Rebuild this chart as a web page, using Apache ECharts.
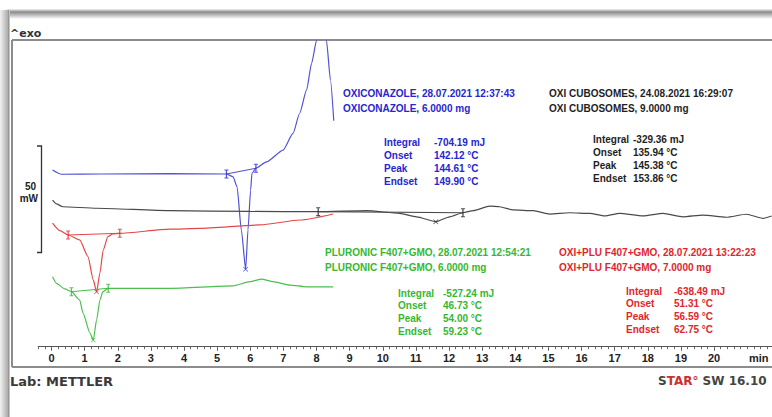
<!DOCTYPE html>
<html><head><meta charset="utf-8">
<script src="https://cdn.jsdelivr.net/npm/echarts@6/dist/echarts.min.js"></script>
<style>html,body{margin:0;padding:0;background:#fff}#c{width:772px;height:417px}</style>
</head><body><div id="c"></div><script>
// ---- data (x: time in min, y: heat flow in mW, arbitrary offset) ----
const tickValues = [0,1,2,3,4,5,6,7,8,9,10,11,12,13,14,15,16,17,18,19,20];
const tickLabels = ['0','1','2','3','4','5','6','7','8','9','10','11','12','13','14','15','16','17','18','19','20'];
const unitLabel = 'min';

const oxiCurve = [[0.03,82.6],[0.30,80.6],[1.5,80.7],[3.57,80.9],[5.28,80.7],[5.48,79.4],[5.60,74.8],[5.73,54.5],[5.86,36.2],[5.93,54.5],[6.01,73.2],[6.05,81.0],[6.17,83.4],[6.49,86.4],[6.99,91.9],[7.29,99.7],[7.49,109.1],[7.70,120.0],[7.85,132.4],[8.00,143.0],[8.15,162],[8.30,143.0],[8.42,124.6],[8.52,105.6]];
const oxiMarks = [[5.28,80.7],[6.17,83.4]];
const oxiPeak = [[5.86,36.2]];

const cuboCurve = [[0.03,68.5],[0.15,66.7],[0.34,65.4],[1.36,64.7],[3.57,63.6],[6.0,63.2],[8.05,63.1],[9.51,63.6],[10.51,62.3],[11.02,60.7],[11.60,58.4],[12.02,60.7],[12.42,62.6],[12.73,63.6],[13.23,65.7],[13.53,65.4],[13.93,63.9],[14.54,63.6],[15.04,62.0],[15.64,62.6],[16.25,62.3],[16.70,61.1],[17.15,62.3],[17.86,61.1],[18.46,62.3],[19.06,60.7],[19.67,61.5],[20.37,60.5],[20.98,61.9],[21.48,60.0],[21.74,61.1]];
const cuboMarks = [[8.05,63.1],[12.42,62.6]];
const cuboPeak = [[11.60,58.4]];

const mixCurve = [[0.03,57.7],[0.25,54.2],[0.50,52.2],[0.85,49.9],[1.10,42.1],[1.26,31.2],[1.36,25.7],[1.46,34.4],[1.56,45.2],[1.70,51.4],[1.85,52.7],[2.06,53.0],[3.57,54.9],[4.48,55.3],[6.29,56.9],[7.50,59.2],[8.50,62.0]];
const mixMarks = [[0.50,52.2],[2.06,53.0]];
const mixPeak = [[1.36,25.7]];

const pluCurve = [[0.03,32.7],[0.15,29.6],[0.40,27.0],[0.60,25.7],[0.85,21.8],[0.95,15.7],[1.16,6.4],[1.26,3.1],[1.36,12.5],[1.46,21.8],[1.55,25.7],[1.71,27.3],[3.57,27.3],[5.47,28.4],[5.99,30.4],[6.34,31.6],[6.69,30.4],[7.19,28.8],[7.70,28.0],[8.50,28.0]];
const pluMarks = [[0.60,25.7],[1.71,27.3]];
const pluPeak = [[1.26,3.1]];

const oxiTitle = ['OXICONAZOLE, 28.07.2021 12:37:43','OXICONAZOLE, 6.0000 mg'];
const oxiStats = [['Integral','-704.19 mJ'],['Onset','142.12 °C'],['Peak','144.61 °C'],['Endset','149.90 °C']];
const cuboTitle = ['OXI CUBOSOMES, 24.08.2021 16:29:07','OXI CUBOSOMES, 9.0000 mg'];
const cuboStats = [['Integral','-329.36 mJ'],['Onset','135.94 °C'],['Peak','145.38 °C'],['Endset','153.86 °C']];
const pluTitle = ['PLURONIC F407+GMO, 28.07.2021 12:54:21','PLURONIC F407+GMO, 6.0000 mg'];
const pluStats = [['Integral','-527.24 mJ'],['Onset','46.73 °C'],['Peak','54.00 °C'],['Endset','59.23 °C']];
const mixTitle = ['OXI+PLU F407+GMO, 28.07.2021 13:22:23','OXI+PLU F407+GMO, 7.0000 mg'];
const mixStats = [['Integral','-638.49 mJ'],['Onset','51.31 °C'],['Peak','56.59 °C'],['Endset','62.75 °C']];

const scaleLabel = ['50','mW'];

// ---- styling / layout ----
const C = {
  oxi: {line:'#5252d6', text:'#2626d0'},
  cubo:{line:'#4a4a4a', text:'#1e1e1e'},
  mix: {line:'#e24848', text:'#e0262a'},
  plu: {line:'#4cbf4c', text:'#36b82e'}
};
const F = 'bold 10px "Liberation Sans", Arial, sans-serif';
const barSym = 'path://M0,0H5V1.2H3.3V8.8H5V10H0V8.8H1.7V1.2H0Z';
const xSym = 'path://M0,1L1,0L5,4L9,0L10,1L6,5L10,9L9,10L5,6L1,10L0,9L4,5Z';

function curve(name, data, color){
  return {type:'line', name, data, showSymbol:false, smooth:0.2, smoothMonotone:'x',
    lineStyle:{color, width:1.2}, silent:true, z:3};
}
function base(data, color){
  return {type:'line', data, showSymbol:false, lineStyle:{color, width:1.1}, silent:true, z:3};
}
function marks(data, color){
  return {type:'scatter', data, symbol:barSym, symbolSize:[4,9], itemStyle:{color}, silent:true, z:4};
}
function peak(data, color){
  return {type:'scatter', data, symbol:xSym, symbolSize:5, itemStyle:{color}, silent:true, z:4};
}

const graphics = [];
function txt(x, y, s, fill, font, align){
  graphics.push({type:'text', x, y, silent:true, z:10, style:{text:s, fill, font:font||F, align:align||'left', verticalAlign:'middle'}});
}
function block(title, stats, color, tx, ty, lx, vx, sy, sdy){
  txt(tx, ty, title[0], color); txt(tx, ty+15, title[1], color);
  stats.forEach((r,i)=>{ txt(lx, sy+i*sdy, r[0], color); txt(vx, sy+i*sdy, r[1], color); });
}
// window shading and frame
graphics.push({type:'rect', shape:{x:7,y:9,width:765,height:10}, style:{fill:new echarts.graphic.LinearGradient(0,0,0,1,[{offset:0,color:'#f4f4f4'},{offset:0.3,color:'#8a8a8a'},{offset:1,color:'#ffffff'}])}, silent:true, z:1});
graphics.push({type:'rect', shape:{x:0,y:10,width:10,height:407}, style:{fill:new echarts.graphic.LinearGradient(0,0,1,0,[{offset:0,color:'#f2f2f2'},{offset:0.75,color:'#b0b0b0'},{offset:0.9,color:'#8a8a8a'},{offset:1,color:'#ffffff'}])}, silent:true, z:1});
graphics.push({type:'line', shape:{x1:12,y1:40,x2:772,y2:40}, style:{stroke:'#8c8c8c', lineWidth:2}, silent:true, z:1});
graphics.push({type:'line', shape:{x1:12,y1:40,x2:12,y2:367}, style:{stroke:'#8c8c8c', lineWidth:2}, silent:true, z:1});
graphics.push({type:'line', shape:{x1:12,y1:367,x2:772,y2:367}, style:{stroke:'#8c8c8c', lineWidth:2}, silent:true, z:1});
// scale bar
graphics.push({type:'polyline', shape:{points:[[37,146],[41.5,146],[41.5,252.5],[37,252.5]]}, style:{stroke:'#333', lineWidth:1.3, fill:null}, silent:true, z:2});
txt(36, 186, scaleLabel[0], '#222', 'bold 10px "Liberation Sans", Arial, sans-serif', 'right');
txt(38, 198, scaleLabel[1], '#222', 'bold 10px "Liberation Sans", Arial, sans-serif', 'right');
txt(10, 33, '^exo', '#333', 'bold 11px "DejaVu Sans", sans-serif');
txt(10, 381, 'Lab: METTLER', '#3a3a3a', 'bold 13px "DejaVu Sans", sans-serif');
graphics.push({type:'text', x:658, y:381, silent:true, z:10, style:{
  text:'{a|S}{b|TAR°}{a| SW 16.10}', verticalAlign:'middle',
  rich:{a:{fill:'#444', font:'bold 12px "DejaVu Sans", sans-serif'}, b:{fill:'#cc3030', font:'bold 12px "DejaVu Sans", sans-serif'}}}});

block(oxiTitle, oxiStats, C.oxi.text, 343, 93, 384, 434, 142, 13.2);
block(cuboTitle, cuboStats, C.cubo.text, 549, 93, 593, 633, 139, 13.3);
block(pluTitle, pluStats, C.plu.text, 325, 252, 398, 443, 293, 12.8);
block(mixTitle, mixStats, C.mix.text, 559, 252, 626, 674, 291, 12.9);

const minorTicks = [];
for (let i = -2; i <= 108; i++) minorTicks.push(Math.round(i*0.2*10)/10);
const labelValues = tickValues.concat([21.35]);

const chart = echarts.init(document.getElementById('c'), null, {renderer:'svg'});
chart.setOption({
  animation:false,
  backgroundColor:'#fff',
  grid:{left:38.3, right:0, top:40.7, bottom:70.3, containLabel:false, outerBoundsMode:'none'},
  xAxis:[{
    type:'value', min:-0.4, max:21.75, position:'bottom',
    axisLine:{show:true, onZero:false, lineStyle:{color:'#555', width:1.2}},
    axisTick:{show:true, customValues:tickValues, length:4, lineStyle:{color:'#555'}},
    axisLabel:{show:true, customValues:labelValues, margin:6, color:'#222',
      fontFamily:'"Liberation Sans", Arial, sans-serif', fontWeight:'bold', fontSize:11,
      formatter:(v)=>{const i=tickValues.indexOf(v); return i>=0?tickLabels[i]:unitLabel;}},
    splitLine:{show:false}
  },{
    type:'value', min:-0.4, max:21.75, position:'bottom',
    axisLine:{show:false, onZero:false},
    axisTick:{show:true, customValues:minorTicks, length:2.5, lineStyle:{color:'#666'}},
    axisLabel:{show:false}, splitLine:{show:false}
  }],
  yAxis:{type:'value', min:0, max:143, show:false},
  graphic:graphics,
  series:[
    curve('OXICONAZOLE', oxiCurve, C.oxi.line), base(oxiMarks, C.oxi.line), marks(oxiMarks, C.oxi.text), peak(oxiPeak, C.oxi.text),
    curve('OXI CUBOSOMES', cuboCurve, C.cubo.line), base(cuboMarks, C.cubo.line), marks(cuboMarks, '#222'), peak(cuboPeak, '#222'),
    curve('OXI+PLU F407+GMO', mixCurve, C.mix.line), base(mixMarks, C.mix.line), marks(mixMarks, C.mix.text), peak(mixPeak, C.mix.text),
    curve('PLURONIC F407+GMO', pluCurve, C.plu.line), base(pluMarks, C.plu.line), marks(pluMarks, C.plu.text), peak(pluPeak, C.plu.text)
  ]
});
</script></body></html>
